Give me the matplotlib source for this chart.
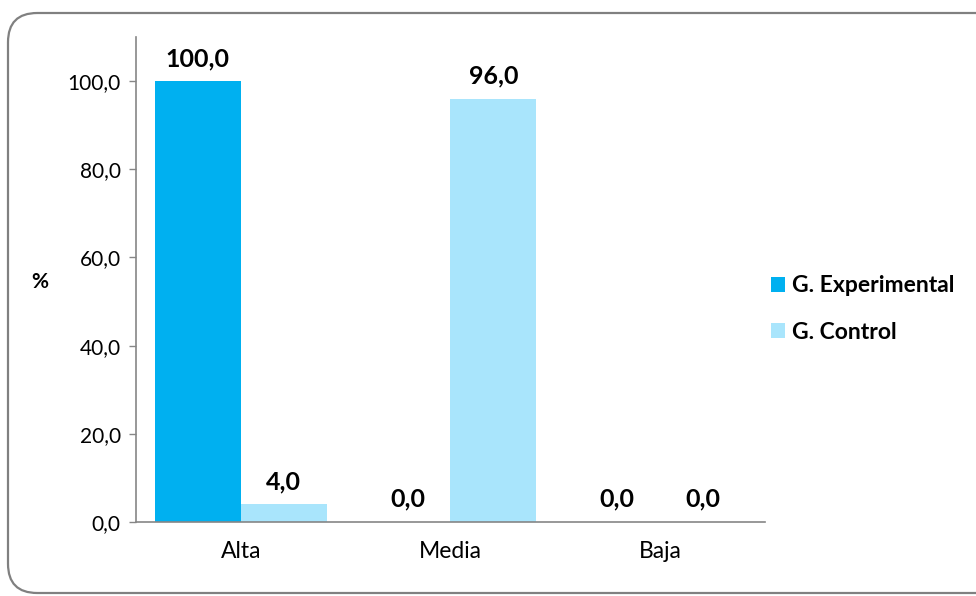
import matplotlib
matplotlib.use("Agg")
import matplotlib.pyplot as plt
from matplotlib.patches import FancyBboxPatch
import numpy as np

categories = ["Alta", "Media", "Baja"]
experimental = [100.0, 0.0, 0.0]
control = [4.0, 96.0, 0.0]
series_names = ["G. Experimental", "G. Control"]
y_ticks = [0, 20, 40, 60, 80, 100]

plt.rcParams["font.family"] = ["Lato", "DejaVu Sans"]

W, H = 976, 596
fig = plt.figure(figsize=(W / 100, H / 100), dpi=100)

# rounded outer frame
frame = FancyBboxPatch((8 / W, 3 / H), (1005 - 8) / W, (583 - 3) / H,
                       boxstyle="round,pad=0,rounding_size=0.03",
                       transform=fig.transFigure, facecolor="none",
                       edgecolor="#808080", linewidth=1.6, zorder=0,
                       mutation_aspect=W / H)
fig.patches.append(frame)

ax = fig.add_axes([136 / W, (H - 522) / H, (765 - 136) / W, (522 - 37) / H])

x = np.arange(len(categories))
bw = 0.41
c_exp = "#00B0F0"
c_ctl = "#A9E5FC"
b1 = ax.bar(x - bw / 2, experimental, bw, color=c_exp, label=series_names[0])
b2 = ax.bar(x + bw / 2, control, bw, color=c_ctl, label=series_names[1])

def fmt(v):
    return f"{v:.1f}".replace(".", ",")

for bars, vals in ((b1, experimental), (b2, control)):
    for rect, v in zip(bars, vals):
        ax.annotate(fmt(v), (rect.get_x() + rect.get_width() / 2, v),
                    xytext=(0, 8), textcoords="offset points",
                    ha="center", va="bottom", fontsize=18, fontweight="bold",
                    color="black")

ax.set_xlim(-0.5, 2.5)
ax.set_ylim(0, 110)
ax.set_yticks(y_ticks)
ax.set_yticklabels([fmt(v) for v in y_ticks], fontsize=15)
ax.set_xticks(x)
ax.set_xticklabels(categories, fontsize=16.5)
ax.tick_params(axis="x", length=0, pad=14)
ax.tick_params(axis="y", length=5, width=1, color="#868686", pad=6)

for s in ("top", "right"):
    ax.spines[s].set_visible(False)
for s in ("left", "bottom"):
    ax.spines[s].set_color("#868686")
    ax.spines[s].set_linewidth(1.2)

fig.text(40 / W, 1 - 282 / H, "%", fontsize=15, fontweight="bold",
         ha="center", va="center")

leg = fig.legend(handles=[b1, b2], loc="center left",
                 bbox_to_anchor=(771 / W, 1 - 309 / H), frameon=False,
                 borderpad=0, borderaxespad=0,
                 prop={"size": 16.5, "weight": "bold"},
                 handlelength=0.6, handleheight=0.6, handletextpad=0.3,
                 labelspacing=1.1)

fig.savefig("out.png", dpi=100)
